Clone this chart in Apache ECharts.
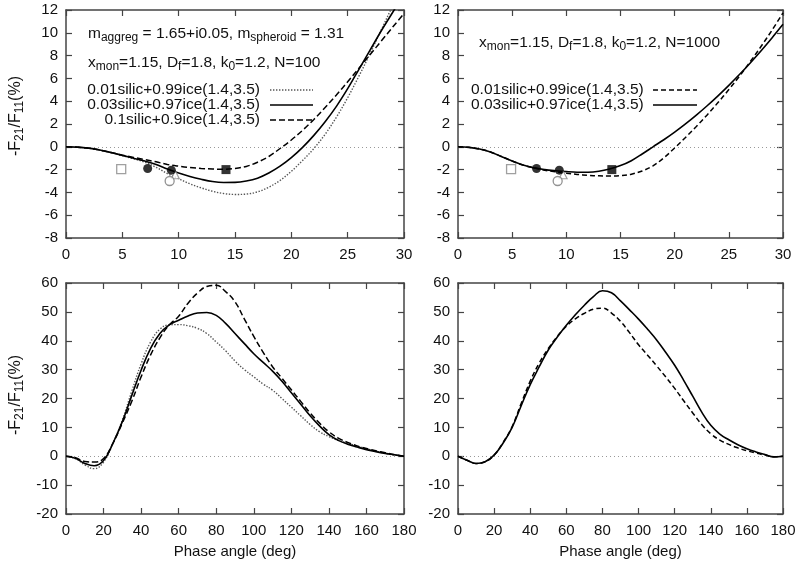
<!DOCTYPE html>
<html><head><meta charset="utf-8">
<script src="https://cdn.jsdelivr.net/npm/echarts@6/dist/echarts.min.js"></script>
<style>html,body{margin:0;padding:0;background:#fff}#c{width:800px;height:564px}</style>
</head><body><div id="c"></div>
<script>
// ---------- data ----------
const topX = [0,1,2,3,4,5,6,7,8,9,10,11,12,13,14,15,16,17,18,19,20,21,22,23,24,25,26,27,28,29,30];
// top-left (N=100)
const tl001 = [0,-0.03,-0.12,-0.3,-0.52,-0.78,-1.05,-1.35,-1.8,-2.35,-2.8,-3.25,-3.6,-3.9,-4.1,-4.18,-4.15,-3.95,-3.55,-2.95,-2.15,-1.2,-0.15,1.1,2.6,4.3,6.2,8.2,10.3,12.4,14.6];
const tl003 = [0,-0.03,-0.12,-0.28,-0.5,-0.75,-1.0,-1.25,-1.55,-1.95,-2.3,-2.6,-2.85,-3.05,-3.13,-3.12,-3.0,-2.75,-2.3,-1.7,-0.95,-0.05,1.0,2.2,3.55,5.1,6.8,8.5,10.2,11.8,13.4];
const tl01  = [0,-0.03,-0.12,-0.28,-0.5,-0.73,-0.93,-1.12,-1.32,-1.55,-1.7,-1.82,-1.9,-1.95,-1.97,-1.9,-1.72,-1.35,-0.85,-0.15,0.6,1.45,2.4,3.45,4.55,5.7,6.9,8.1,9.3,10.5,11.7];
// top-right (N=1000)
const tr001 = [0,-0.05,-0.2,-0.45,-0.85,-1.25,-1.6,-1.85,-2.05,-2.2,-2.32,-2.42,-2.5,-2.55,-2.56,-2.52,-2.4,-2.12,-1.67,-0.97,-0.1,0.82,1.78,2.8,3.88,5.02,6.22,7.5,8.84,10.25,11.75];
const tr003 = [0,-0.05,-0.2,-0.45,-0.85,-1.25,-1.6,-1.85,-2.0,-2.1,-2.18,-2.23,-2.23,-2.15,-1.95,-1.65,-1.22,-0.63,0.0,0.62,1.29,2.01,2.78,3.6,4.47,5.39,6.36,7.38,8.45,9.57,10.74];
const botX = [0,5,10,15,20,25,30,35,40,45,50,55,60,65,70,75,80,85,90,95,100,105,110,115,120,125,130,135,140,145,150,155,160,165,170,175,180];
// bottom-left (N=100)
const bl001 = [0,-0.8,-3.0,-4.3,-2.0,4.5,12.5,22.5,32,39.5,44,45.5,45.6,45.2,44.3,42.5,39.6,36.5,33,30,27.5,25,22.9,20,17,14,11,8.5,6.8,5.5,4.5,3.5,2.6,1.8,1.0,0.4,0];
const bl003 = [0,-0.7,-2.5,-3.3,-1.5,4.5,12,21,29.8,37.3,42.5,45.5,47.1,48.6,49.6,49.8,48.8,46,42.5,39,35.5,32.5,29.5,26,22,18,14,10.5,7.5,5.5,4.2,3.2,2.3,1.6,1.0,0.5,0];
const bl01  = [0,-0.5,-1.8,-2.0,-0.8,4.5,11.5,19,27.5,35,41,45.5,48.5,53,56.5,58.8,59.2,57,53.5,47.5,41.5,36,31,27,23,19,15,11.5,8.5,6.3,4.8,3.6,2.7,1.9,1.2,0.5,0];
// bottom-right (N=1000)
const br001 = [0,-1.4,-2.5,-1.9,0.4,4.8,10.3,18.3,26,32.3,37.3,41.5,45,47.6,49.5,50.9,51.3,49.6,46.7,42.8,38.6,35,31.3,27.5,23.5,19.2,15,11,7.8,5.6,4.1,2.9,1.9,1.1,0.4,-0.2,0];
const br003 = [0,-1.4,-2.5,-1.9,0.4,4.6,10.0,17.5,24.8,31,36.8,41.3,45.4,49,52.3,55.3,57.3,56.6,53.8,50.7,47.5,44,40.3,36,31.5,26.3,20.8,15.3,10.7,7.7,5.7,4.0,2.6,1.5,0.6,-0.2,0];
// observations (phase angle, -F21/F11 %)
const obsOpenSquare   = [[4.9,-1.95]];
const obsFilledCircle = [[7.25,-1.9],[9.35,-2.05]];
const obsOpenCircle   = [[9.2,-3.0]];
const obsTriangle     = [[9.7,-2.45]];
const obsFilledSquare = [[14.2,-2.0]];
// tick settings
const topXRange = [0,30,5], topYRange = [-8,12,2];
const botXRange = [0,180,20], botYRange = [-20,60,10];
const legendLabels = ['0.01silic+0.99ice(1.4,3.5)','0.03silic+0.97ice(1.4,3.5)','0.1silic+0.9ice(1.4,3.5)'];

// ---------- styling ----------
const FONT = '"Liberation Sans", Arial, Helvetica, sans-serif';
const FRAME = '#444';
const TXT = '#111';
const DOT = {color:'#555', width:1.4, type:[1.4,1.6]};
const SOL = {color:'#000', width:1.6, type:'solid'};
const DSH = {color:'#000', width:1.5, type:[6,3]};
const DSH2 = {color:'#000', width:1.5, type:[5,3]};

const grids = [
  {left:66, top:10, width:338, height:228},
  {left:458, top:10, width:325, height:228},
  {left:66, top:283, width:338, height:231},
  {left:458, top:283, width:325, height:231}
];
const subRich = {s:{fontSize:12, lineHeight:11, verticalAlign:'bottom', fontFamily:FONT, color:TXT}};

function xAx(g, r, top, name){
  const a = {type:'value', gridIndex:g, min:r[0], max:r[1], interval:r[2], position: top?'top':'bottom',
    axisLine:{show:true, onZero:false, lineStyle:{color:FRAME, width:1.5}},
    axisTick:{show:true, inside:true, length:6, lineStyle:{color:FRAME, width:1.2}},
    axisLabel:{show:!top, margin:9, fontSize:15, color:TXT, fontFamily:FONT, showMinLabel:true, showMaxLabel:true},
    splitLine:{show:false}};
  if(name){ a.name=name; a.nameLocation='middle'; a.nameGap=30; a.nameTextStyle={fontSize:15, color:TXT, fontFamily:FONT}; }
  return a;
}
function yAx(g, r, right, name, shift){
  const a = {type:'value', gridIndex:g, min:r[0], max:r[1], interval:r[2], position: right?'right':'left',
    axisLine:{show:true, onZero:false, lineStyle:{color:FRAME, width:1.5}},
    axisTick:{show:true, inside:true, length:6, lineStyle:{color:FRAME, width:1.2}},
    axisLabel:{show:!right, margin:8, fontSize:15, color:TXT, fontFamily:FONT, showMinLabel:true, showMaxLabel:true},
    splitLine:{show:false}};
  if(name){ a.name=name; a.nameLocation='middle'; a.nameGap=40; a.nameRotate=90;
    a.nameTextStyle={fontSize:16, lineHeight:20, color:TXT, fontFamily:FONT, rich:subRich, padding:[0,0,0,shift||0]}; }
  return a;
}
const yName = '-F{s|21}/F{s|11}(%)';
const xAxis = [
  xAx(0,topXRange,false), xAx(0,topXRange,true),
  xAx(1,topXRange,false), xAx(1,topXRange,true),
  xAx(2,botXRange,false,'Phase angle (deg)'), xAx(2,botXRange,true),
  xAx(3,botXRange,false,'Phase angle (deg)'), xAx(3,botXRange,true)
];
const yAxis = [
  yAx(0,topYRange,false,yName,16), yAx(0,topYRange,true),
  yAx(1,topYRange,false), yAx(1,topYRange,true),
  yAx(2,botYRange,false,yName,7), yAx(2,botYRange,true),
  yAx(3,botYRange,false), yAx(3,botYRange,true)
];

function zip(xs, ys){ return xs.map((x,i)=>[x, ys[i]]); }
function curve(g, name, xs, ys, ls, zero, sm){
  const s = {type:'line', name, xAxisIndex:2*g, yAxisIndex:2*g, data:zip(xs,ys), smooth:sm||0.35,
    showSymbol:false, symbol:'none', lineStyle:ls, clip:true, z:3, silent:true};
  if(zero){ s.markLine = {silent:true, symbol:'none', label:{show:false},
    lineStyle:{color:'#999', width:1, type:[1,3]}, data:[{yAxis:0}], z:1}; }
  return s;
}
function marks(g){
  const base = {type:'scatter', xAxisIndex:2*g, yAxisIndex:2*g, z:5, silent:true};
  return [
    Object.assign({}, base, {name:'obs-open-square', data:obsOpenSquare, symbol:'rect', symbolSize:9, itemStyle:{color:'#fff', borderColor:'#888', borderWidth:1.3}}),
    Object.assign({}, base, {name:'obs-triangle', data:obsTriangle, symbol:'triangle', symbolSize:8, itemStyle:{color:'#fff', borderColor:'#888', borderWidth:1.2}}),
    Object.assign({}, base, {name:'obs-open-circle', data:obsOpenCircle, symbol:'circle', symbolSize:9, itemStyle:{color:'#fff', borderColor:'#777', borderWidth:1.3}}),
    Object.assign({}, base, {name:'obs-filled-circle', data:obsFilledCircle, symbol:'circle', symbolSize:9, itemStyle:{color:'#000'}}),
    Object.assign({}, base, {name:'obs-filled-square', data:obsFilledSquare, symbol:'rect', symbolSize:9, itemStyle:{color:'#000'}})
  ];
}
const series = [
  curve(0, legendLabels[0], topX, tl001, DOT, true),
  curve(0, legendLabels[1], topX, tl003, SOL),
  curve(0, legendLabels[2], topX, tl01, DSH),
  ...marks(0),
  curve(1, legendLabels[0], topX, tr001, DSH2, true),
  curve(1, legendLabels[1], topX, tr003, SOL),
  ...marks(1),
  curve(2, legendLabels[0], botX, bl001, DOT, true, 0.45),
  curve(2, legendLabels[1], botX, bl003, SOL, false, 0.45),
  curve(2, legendLabels[2], botX, bl01, DSH, false, 0.45),
  curve(3, legendLabels[0], botX, br001, DSH2, true, 0.45),
  curve(3, legendLabels[1], botX, br003, SOL, false, 0.45)
];

const tRich = {s:{fontSize:12, lineHeight:11, verticalAlign:'bottom', fontFamily:FONT, fill:TXT, color:TXT}};
function txt(x, y, text, align){
  return {type:'text', x, y, z:10, silent:true,
    style:{text, x:0, y:0, fontSize:15.5, lineHeight:20, fontFamily:FONT, fill:TXT, align:align||'left', verticalAlign:'top', rich:tRich}};
}
function sample(x1, x2, y, ls){
  return {type:'line', z:10, silent:true, shape:{x1, y1:y, x2, y2:y},
    style:{stroke:ls.color, lineWidth:ls.width, lineDash: ls.type==='solid'?null:ls.type}};
}
const graphic = [
  txt(88, 24, 'm{s|aggreg} = 1.65+i0.05, m{s|spheroid} = 1.31'),
  txt(88, 53, 'x{s|mon}=1.15, D{s|f}=1.8, k{s|0}=1.2, N=100'),
  txt(260, 80, legendLabels[0], 'right'), sample(270, 313, 90, DOT),
  txt(260, 95, legendLabels[1], 'right'), sample(270, 313, 105, SOL),
  txt(260, 110, legendLabels[2], 'right'), sample(270, 313, 120, DSH),
  txt(479, 33, 'x{s|mon}=1.15, D{s|f}=1.8, k{s|0}=1.2, N=1000'),
  txt(471, 80, legendLabels[0]), sample(653, 697, 90, DSH2),
  txt(471, 95, legendLabels[1]), sample(653, 697, 105, SOL)
];

const chart = echarts.init(document.getElementById('c'), null, {renderer:'canvas'});
chart.setOption({backgroundColor:'#fff', animation:false, grid:grids, xAxis, yAxis, series, graphic});
</script>
</body></html>
